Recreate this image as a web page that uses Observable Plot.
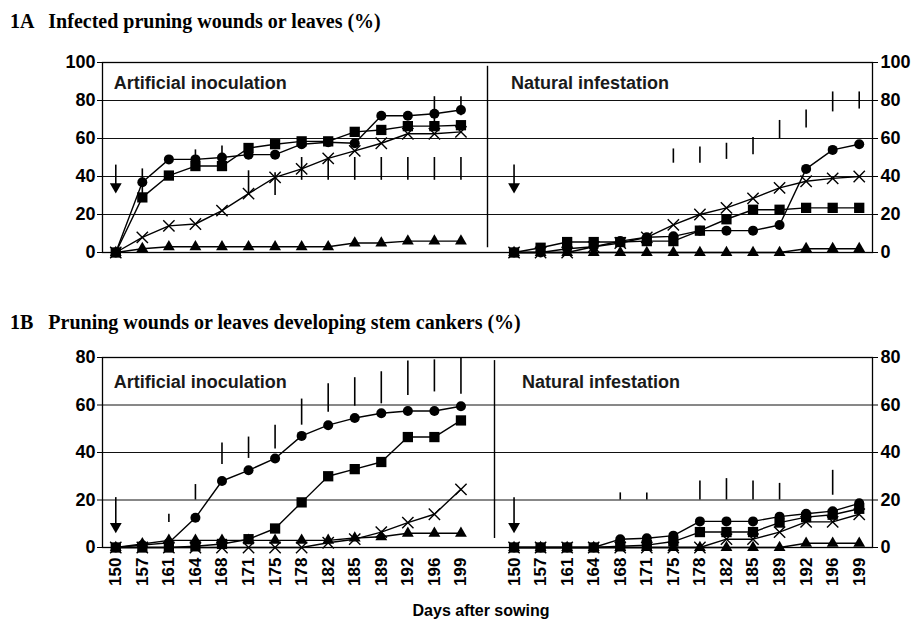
<!DOCTYPE html>
<html><head><meta charset="utf-8">
<script src="https://cdn.jsdelivr.net/npm/d3@7"></script>
<script src="https://cdn.jsdelivr.net/npm/@observablehq/plot@0.6"></script>
<style>
body{margin:0;background:#fff;width:915px;height:638px;position:relative;overflow:hidden;font-family:"Liberation Sans",Arial,sans-serif}
.title{position:absolute;left:10px;font-family:"Liberation Serif","Times New Roman",serif;font-weight:bold;font-size:20px;color:#000;white-space:pre;line-height:1}
#t1{top:11px}
#t2{top:312px}
#p1{position:absolute;left:0;top:50px}
#p2{position:absolute;left:0;top:345px}
#xl{position:absolute;top:603px;left:381px;width:200px;text-align:center;font-weight:bold;font-size:16px;color:#000;line-height:1}
</style></head>
<body>
<div class="title" id="t1">1A   Infected pruning wounds or leaves (%)</div>
<div class="title" id="t2">1B   Pruning wounds or leaves developing stem cankers (%)</div>
<div id="p1"></div>
<div id="p2"></div>
<div id="xl">Days after sowing</div>
<script>
// ---- data ----
const days = [150,157,161,164,168,171,175,178,182,185,189,192,196,199];
const seriesNames = ["circle","square","times","triangle"];

// 1A  Artificial inoculation
const a1Circle   = [0,37,49,49,50,51.5,51.5,57,58,57.5,72,72,73,75];
const a1Square   = [0,29,40.5,45.5,45.5,55,57,58.5,58.5,63.5,64.5,66.5,66.5,67];
const a1Cross    = [0,8,14,15,22,31,39.5,44,49.5,53.5,57.5,62.5,62.5,63.5];
const a1Triangle = [0,2,3,3,3,3,3,3,3,5,5,6,6,6];
// 1A  Natural infestation
const n1Circle   = [0,0,2,3,6,8,8.5,11.5,11.5,11.5,14.5,44,54,57];
const n1Square   = [0,2.5,5.5,5.5,5.5,6,6,11.5,17.5,22.5,22.5,23.5,23.5,23.5];
const n1Cross    = [0,0,0,3,5,8,14.5,20,23.5,28.5,34,37.5,39,40];
const n1Triangle = [0,0,0,0,0,0,0,0,0,0,0,2,2,2];
// 1B  Artificial inoculation
const a2Circle   = [0,1,2,12.5,28,32.5,37.5,47,51.5,54.5,56.5,57.5,57.5,59.5];
const a2Square   = [0,0,0,0.5,1.5,3.5,8,19,30,33,36,46.5,46.5,53.5];
const a2Cross    = [0,0,0,0,0,0,0,0,2,3.5,6.5,10.5,14,24.5];
const a2Triangle = [0,1.5,3,3,3,3,3,3,3,4,4.5,6,6,6];
// 1B  Natural infestation
const n2Circle   = [0,0,0,0,3.5,3.9,5,11,11,11,13,14.2,15.3,18.6];
const n2Square   = [0,0,0,0,0.5,1,2.5,6.5,6.5,6.5,10.5,12.8,13.8,16.3];
const n2Cross    = [0,0,0,0,0,0,0,0,3.5,3.5,6.5,10.8,10.8,14];
const n2Triangle = [0,0,0,0,0,0,0,0,0,0,0,1.8,1.8,1.8];

// vertical bars (day, low, high)
const a1BarDays = [157,164,168,171,175,178,182,185,189,192,196,199,196,199];
const a1BarLow  = [31,43,44,30,30,38,38,38,38,38,38,38,68,72];
const a1BarHigh = [44,54,56,43,42,50,50,50,50,50,50,50,82,82];
const n1BarDays = [175,178,182,185,189,192,196,199];
const n1BarLow  = [47,47,49,51.5,60,65.5,74,75.5];
const n1BarHigh = [54.5,55.5,57.5,60.5,69.5,75,84.5,84.5];
const a2BarDays = [161,164,168,171,175,178,182,185,189,192,196,199];
const a2BarLow  = [10.5,20,35,37.5,41.5,51.5,57,59.5,60.5,64,65.5,64.5];
const a2BarHigh = [14,26.5,44,46.5,51.5,62.5,69,71.5,74,78.5,79,80];
const n2BarDays = [168,171,178,182,185,189,196];
const n2BarLow  = [20,20,20,20,20,20,22];
const n2BarHigh = [23,23,28,29,28,27,32.5];

// arrows at inoculation day: [top, tip]
const arrow1 = [46, 31];
const arrow2 = [21, 6];

const yTicks1 = [0,20,40,60,80,100];
const yTicks2 = [0,20,40,60,80];
const groupLabels = ["Artificial inoculation","Natural infestation"];

// ---- helpers ----
const xDomain = [...days.map(d => "A" + d), "gap", ...days.map(d => "N" + d)];
function rows(prefix, arrays) {
  const out = [];
  arrays.forEach((arr, si) => arr.forEach((v, i) => out.push({x: prefix + days[i], y: v, s: seriesNames[si], z: prefix + seriesNames[si]})));
  return out;
}
function bars(prefix, ds, lo, hi) { return ds.map((d, i) => ({x: prefix + d, y1: lo[i], y2: hi[i]})); }

function panel({data, barData, yMax, yTicks, arrow, showX, marginBottom, dividerY, dividerDx, labelY, labelDx}) {
  const pxPerUnit = 190 / yMax;
  const headR = 4.4;
  const headHalf = Math.sqrt(Math.PI * headR * headR / (Math.sqrt(3) * 3)); // centroid-to-base distance
  const headCenter = arrow[1] + 2 * headHalf / pxPerUnit;
  const marks = [
    Plot.ruleY(yTicks.filter(t => t > 0 && t < yMax), {stroke: "#111", strokeWidth: 1}),
    Plot.frame({stroke: "#000", strokeWidth: 1.3}),
    Plot.ruleX(["gap"], {y1: dividerY[0], y2: dividerY[1], stroke: "#000", strokeWidth: 1.4, dx: dividerDx}),
    Plot.line(data, {x: "x", y: "y", z: "z", stroke: "#000", strokeWidth: 1.4}),
    Plot.ruleX(barData, {x: "x", y1: "y1", y2: "y2", stroke: "#000", strokeWidth: 1.6}),
    Plot.dot(data.filter(d => d.s === "circle"), {x: "x", y: "y", symbol: "circle", r: 5, fill: "#000", stroke: "none"}),
    Plot.dot(data.filter(d => d.s === "square"), {x: "x", y: "y", symbol: "square", r: 5.8, fill: "#000", stroke: "none"}),
    Plot.dot(data.filter(d => d.s === "triangle"), {x: "x", y: "y", symbol: "triangle", r: 4.4, fill: "#000", stroke: "none"}),
    Plot.dot(data.filter(d => d.s === "times"), {x: "x", y: "y", symbol: "times", r: 5.2, stroke: "#000", strokeWidth: 1.4, fill: "none"}),
    Plot.ruleX(["A150", "N150"], {y1: arrow[0], y2: headCenter, stroke: "#000", strokeWidth: 1.6}),
    Plot.dot(["A150", "N150"], {x: d => d, y: headCenter, symbol: "triangle", rotate: 180, r: headR, fill: "#000", stroke: "none"}),
    Plot.text([{x: "A150", t: groupLabels[0]}, {x: "N150", t: groupLabels[1]}],
      {x: "x", y: labelY, text: "t", textAnchor: "start", fontSize: 18, fontWeight: "bold", fill: "#1a1a1a",
       render: (index, scales, values, dims, ctx, next) => {
         const g = next(index, scales, values, dims, ctx);
         g.querySelectorAll("text").forEach((t, j) => t.setAttribute("transform", `translate(${values.x[index[j]] + labelDx[index[j]]},${values.y[index[j]]})`));
         return g;
       }}),
    Plot.axisY({anchor: "left", ticks: yTicks, tickSize: 5, tickPadding: 2, fontSize: 18, fontWeight: "bold"}),
    Plot.axisY({anchor: "right", ticks: yTicks, tickSize: 5, tickPadding: 3, fontSize: 18, fontWeight: "bold"})
  ];
  if (showX) {
    marks.push(Plot.axisX({ticks: xDomain.filter(k => k !== "gap"), tickFormat: k => k.slice(1), tickRotate: -90, tickSize: 0, tickPadding: 10, fontSize: 17, fontWeight: "bold", label: null}));
  }
  return Plot.plot({
    width: 915,
    height: 12 + 190 + marginBottom,
    marginLeft: 102, marginRight: 43, marginTop: 12, marginBottom,
    style: {fontFamily: "'Liberation Sans', Arial, sans-serif", color: "#000", background: "#fff"},
    x: {type: "point", domain: xDomain, padding: 0.5, round: false, label: null, axis: null},
    y: {domain: [0, yMax], label: null, axis: null},
    marks
  });
}

const p1 = panel({
  data: [...rows("A", [a1Circle, a1Square, a1Cross, a1Triangle]), ...rows("N", [n1Circle, n1Square, n1Cross, n1Triangle])],
  barData: [...bars("A", a1BarDays, a1BarLow, a1BarHigh), ...bars("N", n1BarDays, n1BarLow, n1BarHigh)],
  yMax: 100, yTicks: yTicks1, arrow: arrow1, showX: false, marginBottom: 12,
  dividerY: [2.5, 98], dividerDx: 0, labelY: 89, labelDx: [-2, -3]
});
document.getElementById("p1").append(p1);

const p2 = panel({
  data: [...rows("A", [a2Circle, a2Square, a2Cross, a2Triangle]), ...rows("N", [n2Circle, n2Square, n2Cross, n2Triangle])],
  barData: [...bars("A", a2BarDays, a2BarLow, a2BarHigh), ...bars("N", n2BarDays, n2BarLow, n2BarHigh)],
  yMax: 80, yTicks: yTicks2, arrow: arrow2, showX: true, marginBottom: 55,
  dividerY: [3.8, 78.7], dividerDx: 7, labelY: 69.5, labelDx: [-2, 8]
});
document.getElementById("p2").append(p2);
</script>
</body></html>
